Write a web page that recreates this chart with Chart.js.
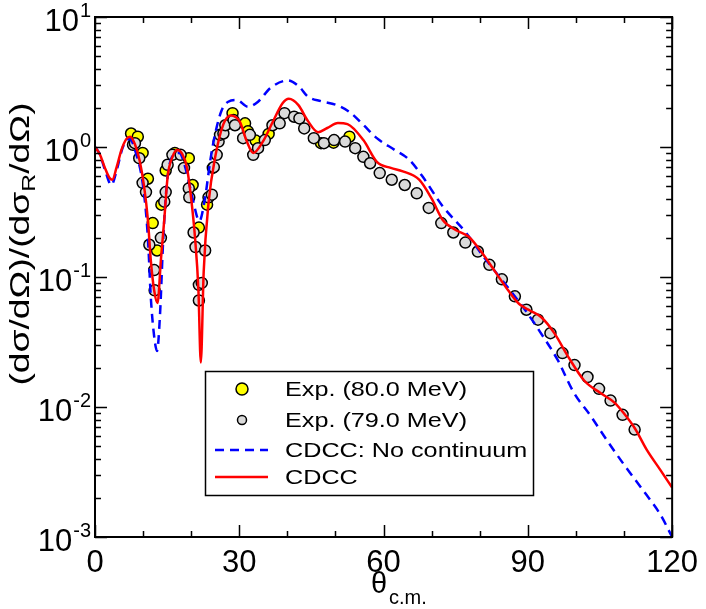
<!DOCTYPE html>
<html>
<head>
<meta charset="utf-8">
<script src="https://cdn.jsdelivr.net/npm/chart.js@4.4.1/dist/chart.umd.min.js"></script>
<style>
  html, body { margin: 0; padding: 0; background: #fff; }
</style>
</head>
<body>
<canvas id="chart" width="706" height="609"></canvas>
<script>
// Experimental data, 80.0 MeV
const exp80Angle = [7.5, 8.9, 9.9, 11.0, 12.0, 12.9, 13.8, 14.7, 16.6, 19.5, 20.3, 21.6, 23.3, 24.5, 28.6, 31.2, 31.8, 33.4, 36.1, 47.0, 49.6, 52.9];
const exp80Ratio = [1.27, 1.20, 0.90, 0.57, 0.26, 0.16, 0.36, 0.66, 0.90, 0.82, 0.51, 0.24, 0.36, 0.69, 1.82, 1.52, 1.32, 1.12, 1.26, 1.07, 1.08, 1.20];

// Experimental data, 79.0 MeV
const exp79Angle = [7.9, 8.3, 9.2, 9.9, 10.6, 11.3, 12.3, 12.4, 13.7, 14.4, 14.7, 15.1, 16.1, 17.8, 18.5, 19.5, 19.6, 20.5, 20.9, 21.6, 21.6, 22.2, 22.9, 23.6, 24.3, 24.7, 25.3, 25.7, 26.0, 26.7, 27.1, 28.8, 29.1, 30.8, 32.2, 32.9, 33.9, 35.3, 36.9, 38.4, 39.4, 41.4, 42.5, 43.5, 45.5, 47.6, 49.7, 52.0, 54.1, 55.8, 57.2, 59.2, 61.7, 64.4, 66.9, 69.4, 72.0, 74.5, 77.0, 79.6, 82.0, 84.6, 87.3, 89.7, 92.1, 94.7, 97.2, 99.7, 102.4, 104.8, 107.2, 109.7, 112.2];
const exp79Ratio = [1.04, 1.07, 0.82, 0.53, 0.45, 0.177, 0.113, 0.079, 0.20, 0.38, 0.45, 0.73, 0.87, 0.87, 0.69, 0.48, 0.41, 0.22, 0.17, 0.087, 0.066, 0.09, 0.16, 0.41, 0.43, 0.70, 0.87, 1.10, 1.24, 1.27, 1.47, 1.61, 1.47, 1.17, 1.24, 0.87, 0.98, 1.13, 1.47, 1.52, 1.82, 1.71, 1.66, 1.39, 1.17, 1.07, 1.13, 1.10, 0.98, 0.84, 0.75, 0.63, 0.56, 0.51, 0.44, 0.34, 0.26, 0.22, 0.184, 0.157, 0.124, 0.096, 0.071, 0.056, 0.047, 0.037, 0.026, 0.021, 0.017, 0.0138, 0.0112, 0.0087, 0.0067];

// CDCC without continuum couplings
const noContAngle = [0, 1, 2, 3.4, 4.5, 5.8, 7.2, 8.5, 10, 11, 11.6, 12.3, 12.9, 13.5, 14.2, 15, 16.5, 17.5, 19, 20.3, 21.7, 22.9, 24, 25, 26.3, 27.7, 29.5, 31.8, 33.9, 36.5, 40.1, 42.5, 44.2, 47, 50.3, 53, 55.8, 58.6, 62.3, 65.3, 68, 72.3, 77.1, 81, 84.6, 89.4, 92.5, 96.2, 99.5, 103.1, 106.5, 110, 114.7, 117.5, 120];
const noContRatio = [1.0, 0.88, 0.68, 0.51, 0.66, 1.0, 1.15, 0.9, 0.5, 0.2, 0.07, 0.035, 0.027, 0.05, 0.2, 0.55, 0.88, 0.9, 0.65, 0.4, 0.27, 0.41, 0.8, 1.27, 1.9, 2.23, 2.3, 2.04, 2.23, 2.85, 3.25, 2.9, 2.45, 2.25, 2.1, 1.85, 1.48, 1.17, 0.95, 0.8, 0.6, 0.35, 0.22, 0.14, 0.095, 0.056, 0.038, 0.023, 0.013, 0.0085, 0.0055, 0.0036, 0.0021, 0.0015, 0.001];

// full CDCC
const cdccAngle = [0, 1, 2, 3, 3.6, 4.5, 5.5, 6.5, 7.3, 8.3, 9.3, 10.2, 11, 11.6, 12.3, 13, 13.7, 14.4, 15.1, 16.1, 17.1, 18.1, 19.1, 20, 20.8, 21.5, 22, 22.6, 23.6, 25, 26.7, 28.2, 30.1, 31.5, 32.9, 34.9, 37, 39, 40.3, 42.3, 44.2, 46.4, 48.3, 50.5, 52.5, 55.8, 58.6, 61.5, 64, 67.4, 70, 72.3, 75, 77.7, 80.5, 83.2, 85.9, 88.2, 90.5, 92.8, 95.5, 98.5, 101.7, 105.1, 108, 110, 112.3, 114.7, 117.5, 120];
const cdccRatio = [1.0, 0.88, 0.7, 0.58, 0.56, 0.7, 0.95, 1.15, 1.2, 1.05, 0.78, 0.5, 0.275, 0.135, 0.079, 0.063, 0.135, 0.275, 0.59, 0.84, 0.95, 0.89, 0.7, 0.4, 0.2, 0.08, 0.022, 0.11, 0.37, 0.84, 1.5, 1.75, 1.57, 1.12, 0.9, 1.1, 1.57, 2.17, 2.35, 2.1, 1.6, 1.3, 1.4, 1.53, 1.5, 1.13, 0.77, 0.69, 0.65, 0.56, 0.4, 0.275, 0.23, 0.204, 0.153, 0.11, 0.079, 0.062, 0.055, 0.049, 0.037, 0.024, 0.016, 0.0128, 0.0108, 0.0089, 0.0068, 0.0047, 0.0033, 0.0024];

// axis ticks
const xMajorTicks = [0, 30, 60, 90, 120];
const yDecades = [-3, -2, -1, 0, 1];

const FONT = '"Liberation Sans", Arial, Helvetica, sans-serif';

function toPoints(xs, ys) {
    return xs.map((x, i) => ({ x: x, y: ys[i] }));
}

// frame, inward ticks, y labels with exponents, axis titles
const framePlugin = {
    id: 'frame',
    afterDatasetsDraw(chart) {
        const { ctx, chartArea: a, scales: { x, y } } = chart;
        ctx.save();
        ctx.strokeStyle = '#000';
        ctx.lineWidth = 1.5;
        ctx.beginPath();
        for (let v = 0; v <= 120; v += 10) {
            const px = Math.round(x.getPixelForValue(v)) + 0.5;
            const len = xMajorTicks.includes(v) ? 12 : 6;
            ctx.moveTo(px, a.bottom); ctx.lineTo(px, a.bottom - len);
            ctx.moveTo(px, a.top); ctx.lineTo(px, a.top + len);
        }
        yDecades.forEach(e => {
            for (let m = 1; m <= 9; m++) {
                const v = m * Math.pow(10, e);
                if (v > 10.0001) break;
                const py = Math.round(y.getPixelForValue(v)) + 0.5;
                const len = m === 1 ? 12 : 6;
                ctx.moveTo(a.left, py); ctx.lineTo(a.left + len, py);
                ctx.moveTo(a.right, py); ctx.lineTo(a.right - len, py);
            }
        });
        ctx.stroke();
        ctx.lineWidth = 2;
        ctx.strokeRect(a.left, a.top, a.right - a.left, a.bottom - a.top);

        // y tick labels 10^n
        ctx.fillStyle = '#000';
        ctx.textBaseline = 'middle';
        ctx.textAlign = 'right';
        yDecades.forEach(e => {
            const py = y.getPixelForValue(Math.pow(10, e));
            const exp = String(e);
            ctx.font = '20px ' + FONT;
            const ew = ctx.measureText(exp).width;
            ctx.fillText(exp, a.left - 4, py - 6);
            ctx.font = '31px ' + FONT;
            ctx.fillText('10', a.left - 5 - ew, py + 5);
        });

        // y axis title
        ctx.save();
        ctx.translate(22, 244);
        ctx.rotate(-Math.PI / 2);
        ctx.scale(1.38, 1);
        const s1 = '(d\u03c3/d\u03a9)/(d\u03c3';
        const s2 = 'R';
        const s3 = '/d\u03a9)';
        ctx.font = '27px ' + FONT;
        const w1 = ctx.measureText(s1).width, w3 = ctx.measureText(s3).width;
        ctx.font = '18px ' + FONT;
        const w2 = ctx.measureText(s2).width;
        let tx = -(w1 + w2 + w3) / 2;
        ctx.textAlign = 'left';
        ctx.textBaseline = 'middle';
        ctx.font = '27px ' + FONT;
        ctx.fillText(s1, tx, 0);
        ctx.font = '18px ' + FONT;
        ctx.fillText(s2, tx + w1, 8);
        ctx.font = '27px ' + FONT;
        ctx.fillText(s3, tx + w1 + w2, 0);
        ctx.restore();

        // x axis title
        ctx.textAlign = 'left';
        ctx.textBaseline = 'alphabetic';
        ctx.font = '29px ' + FONT;
        ctx.fillText('\u03b8', 371, 593);
        ctx.font = '20px ' + FONT;
        ctx.fillText('c.m.', 389, 604);
        ctx.restore();
    }
};

// boxed legend inside the plot
const legendPlugin = {
    id: 'boxLegend',
    afterDraw(chart) {
        const ctx = chart.ctx;
        const ds = chart.data.datasets;
        const order = [3, 2, 1, 0];
        const rows = [389, 420, 450, 477];
        const markR = [6, 4.5];
        ctx.save();
        ctx.fillStyle = '#fff';
        ctx.fillRect(205, 371, 328, 124);
        ctx.strokeStyle = '#000';
        ctx.lineWidth = 1.5;
        ctx.strokeRect(205.5, 371.5, 328, 124);
        order.forEach((k, i) => {
            const d = ds[k];
            const yy = rows[i];
            if (d.showLine === false) {
                ctx.beginPath();
                ctx.arc(242, yy, markR[i], 0, Math.PI * 2);
                ctx.fillStyle = d.backgroundColor;
                ctx.fill();
                ctx.lineWidth = 1.5;
                ctx.strokeStyle = '#000';
                ctx.stroke();
            } else {
                ctx.beginPath();
                ctx.setLineDash(d.borderDash || []);
                ctx.strokeStyle = d.borderColor;
                ctx.lineWidth = d.borderWidth;
                ctx.moveTo(215, yy); ctx.lineTo(268, yy);
                ctx.stroke();
                ctx.setLineDash([]);
            }
            ctx.save();
            ctx.translate(285, yy);
            ctx.scale(1.2, 1);
            ctx.fillStyle = '#000';
            ctx.font = '21px ' + FONT;
            ctx.textAlign = 'left';
            ctx.textBaseline = 'middle';
            ctx.fillText(d.label, 0, 1);
            ctx.restore();
        });
        ctx.restore();
    }
};

new Chart(document.getElementById('chart'), {
    type: 'scatter',
    data: {
        datasets: [
            {
                label: 'CDCC',
                data: toPoints(cdccAngle, cdccRatio),
                showLine: true,
                borderColor: '#ff0000',
                borderWidth: 2.5,
                pointRadius: 0,
                cubicInterpolationMode: 'monotone'
            },
            {
                label: 'CDCC: No continuum',
                data: toPoints(noContAngle, noContRatio),
                showLine: true,
                borderColor: '#0000ff',
                borderWidth: 2.5,
                borderDash: [9, 6],
                pointRadius: 0,
                cubicInterpolationMode: 'monotone'
            },
            {
                label: 'Exp. (79.0 MeV)',
                data: toPoints(exp79Angle, exp79Ratio),
                showLine: false,
                backgroundColor: '#dadada',
                borderColor: '#000',
                borderWidth: 1.5,
                pointRadius: 5.5
            },
            {
                label: 'Exp. (80.0 MeV)',
                data: toPoints(exp80Angle, exp80Ratio),
                showLine: false,
                backgroundColor: '#ffff00',
                borderColor: '#000',
                borderWidth: 1.5,
                pointRadius: 5.5
            }
        ]
    },
    options: {
        responsive: false,
        animation: false,
        layout: { padding: { top: 17, right: 27, left: 0, bottom: 0 } },
        plugins: {
            legend: { display: false },
            tooltip: { enabled: false }
        },
        scales: {
            x: {
                type: 'linear',
                min: 0,
                max: 120,
                afterFit: (s) => { s.height = 72; },
                border: { display: false },
                grid: { display: false, drawTicks: false },
                ticks: {
                    stepSize: 30,
                    color: '#000',
                    padding: 8,
                    font: { size: 31, family: FONT }
                }
            },
            y: {
                type: 'logarithmic',
                min: 0.001,
                max: 10,
                afterFit: (s) => { s.width = 95; },
                border: { display: false },
                grid: { display: false, drawTicks: false },
                ticks: { display: false }
            }
        }
    },
    plugins: [framePlugin, legendPlugin]
});
</script>
</body>
</html>
